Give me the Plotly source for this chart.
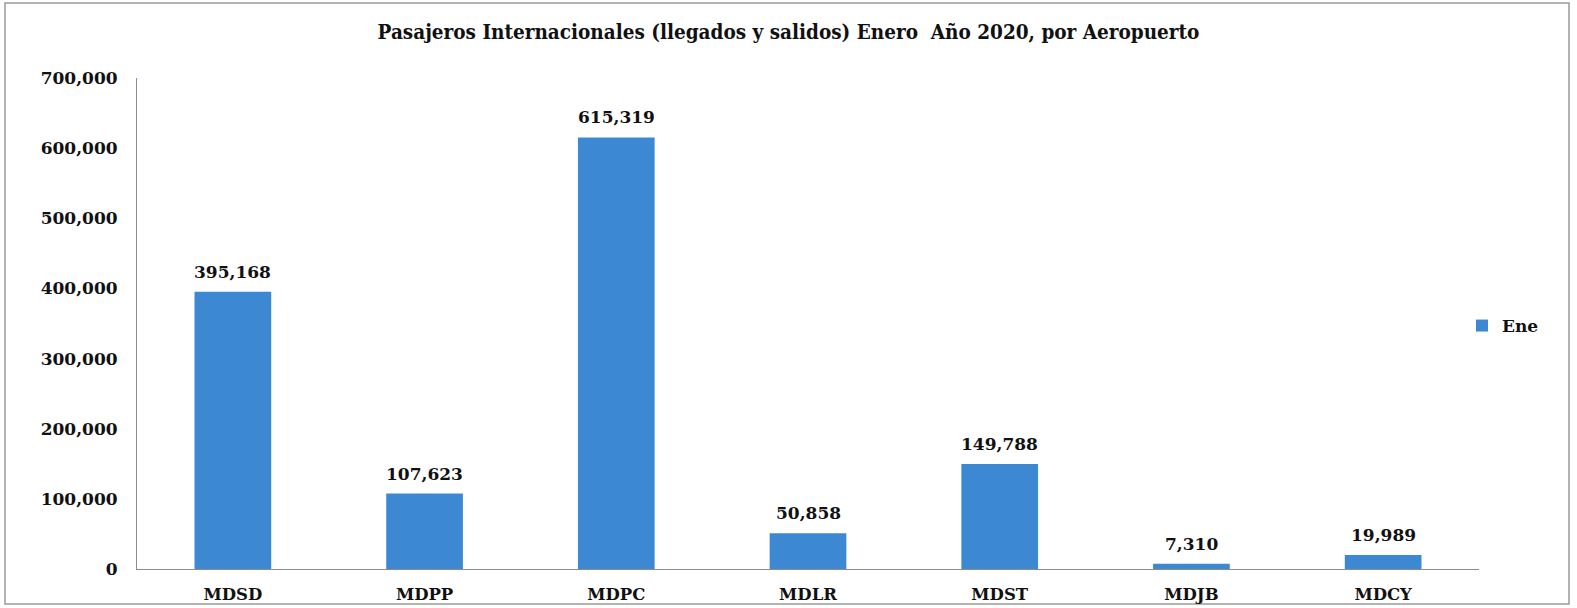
import plotly.graph_objects as go

categories = ["MDSD", "MDPP", "MDPC", "MDLR", "MDST", "MDJB", "MDCY"]
values = [395168, 107623, 615319, 50858, 149788, 7310, 19989]
series_name = "Ene"
y_ticks = [0, 100000, 200000, 300000, 400000, 500000, 600000, 700000]
title_text = "Pasajeros Internacionales (llegados y salidos) Enero  Año 2020, por Aeropuerto"

W, H = 1577, 608
L, R, T, B = 137, 98, 78, 39
bar_color = "#3D88D3"
font_serif = "DejaVu Serif"
txt_color = "#111111"

fig = go.Figure()
fig.add_trace(go.Bar(
    x=categories, y=values, name=series_name,
    marker=dict(color=bar_color, line=dict(width=0)),
    width=0.4,
    showlegend=True,
))

for c, v in zip(categories, values):
    fig.add_annotation(x=c, y=v, xref="x", yref="y", text=f"<b>{v:,}</b>",
                       showarrow=False, yanchor="bottom", yshift=8,
                       font=dict(family=font_serif, size=17, color=txt_color))

pw = W - L - R
ph = H - T - B
def px2x(px): return (px - L) / pw
def py2y(py): return (H - B - py) / ph

fig.add_shape(type="rect", xref="paper", yref="paper",
              x0=px2x(5), x1=px2x(1569), y0=py2y(604), y1=py2y(3),
              line=dict(color="#9a9a9a", width=1.5), fillcolor="rgba(0,0,0,0)", layer="below")

fig.update_layout(
    template="none",
    width=W, height=H,
    margin=dict(l=L, r=R, t=T, b=B, autoexpand=False),
    paper_bgcolor="white", plot_bgcolor="white",
    title=dict(text="<b>" + title_text + "</b>", x=0.5, xanchor="center",
               y=1 - 32 / H, yanchor="middle",
               font=dict(family="DejaVu Serif Condensed", size=20.5, color=txt_color)),
    bargap=0.6,
    legend=dict(x=px2x(1462), y=py2y(326), xanchor="left", yanchor="middle",
                font=dict(family=font_serif, size=17, color=txt_color, weight="bold"),
                bgcolor="rgba(0,0,0,0)", itemwidth=30, traceorder="normal"),
    xaxis=dict(showline=True, linecolor="#8c8c8c", linewidth=1, ticks="",
               showgrid=False, ticklabelstandoff=10, automargin=False,
               tickfont=dict(family=font_serif, size=16.5, color=txt_color, weight="bold")),
    yaxis=dict(range=[0, 700000], tickvals=y_ticks,
               ticktext=[f"{v:,}" for v in y_ticks],
               showline=True, linecolor="#8c8c8c", linewidth=1, ticks="",
               showgrid=False, zeroline=False, ticklabelstandoff=15, automargin=False,
               tickfont=dict(family=font_serif, size=17, color=txt_color, weight="bold")),
)

fig.write_html("out.html", post_script="document.body.style.margin='0px';",
               config={"displayModeBar": False})
